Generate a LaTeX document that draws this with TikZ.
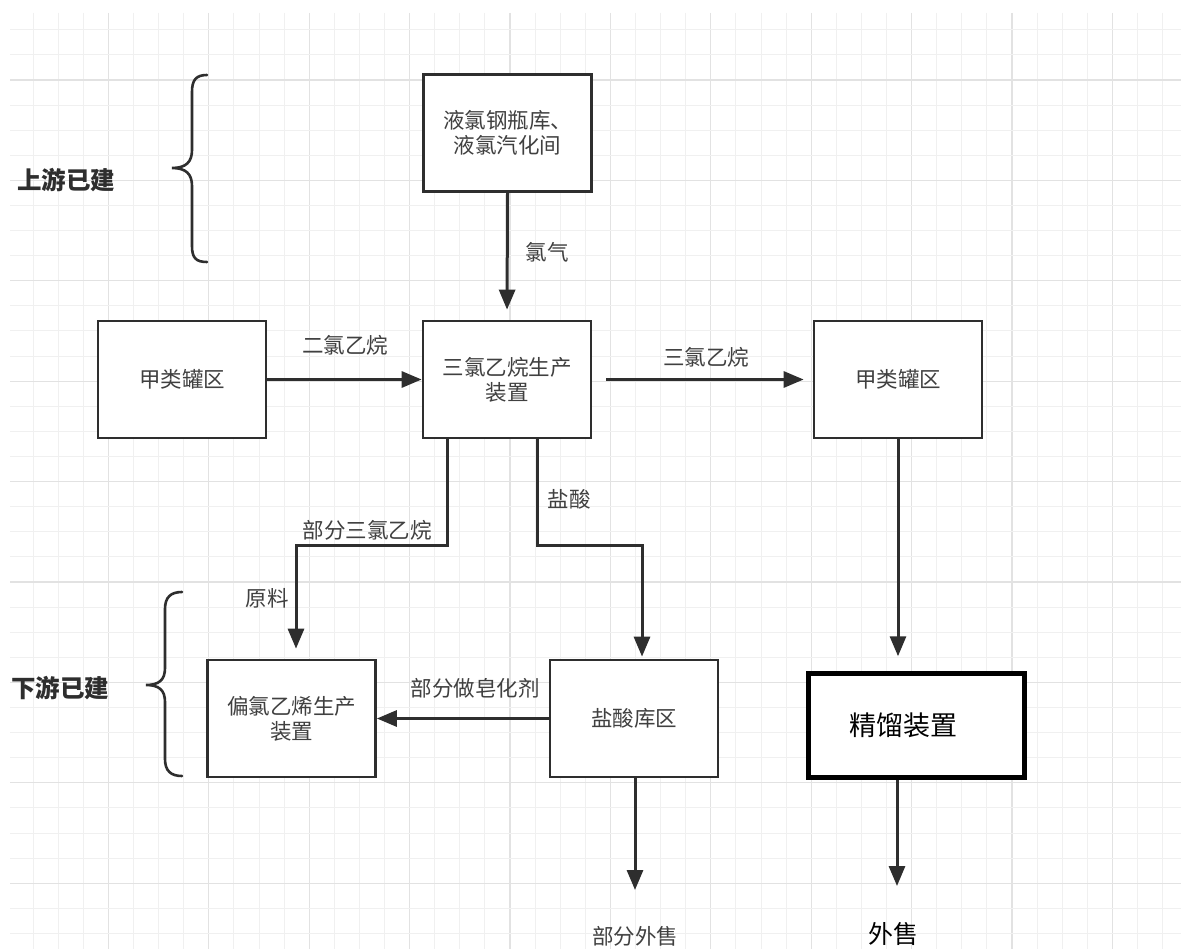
\documentclass[tikz,border=0pt]{standalone}
\usepackage{fontspec}
\newfontfamily\cjk{Noto Sans CJK SC}
\usetikzlibrary{arrows.meta}
\definecolor{ink}{HTML}{2E2E2E}
\definecolor{txt}{HTML}{404040}
\definecolor{gmin}{HTML}{F0F0F0}
\definecolor{gmaj}{HTML}{E2E2E2}
\begin{document}
\begin{tikzpicture}[x=1pt,y=-1pt,
  box/.style={draw=ink, line width=2.7pt, fill=white, font=\cjk\fontsize{21.5}{25}\selectfont,
    text=txt, align=center, inner sep=0pt, minimum width=168pt, minimum height=117pt},
  bigbox/.style={draw=black, line width=4.5pt, fill=white, font=\cjk\fontsize{27}{32}\selectfont,
    text=black, align=center, inner sep=0pt, minimum width=216pt, minimum height=104pt},
  lbl/.style={font=\cjk\fontsize{21.5}{25}\selectfont, text=txt, inner sep=0pt},
  biglbl/.style={font=\cjk\fontsize{25}{30}\selectfont, text=black, inner sep=0pt},
  side/.style={font=\cjk\bfseries\fontsize{24.5}{29}\selectfont, text=ink, inner sep=0pt},
  arr/.style={draw=ink, line width=3pt, -{Triangle[length=20pt,width=16pt]}},
  bracepath/.style={draw=ink, line width=2.6pt, line cap=round}]
\useasboundingbox (0,0) rectangle (1181,949);
\fill[white] (0,0) rectangle (1181,949);
% grid
\foreach \k in {1,...,46} {
  \pgfmathsetmacro{\gx}{8+25.1*\k}
  \pgfmathtruncatemacro{\m}{mod(\k,4)}
  \ifnum\m=0 \draw[gmaj, line width=1.2pt] (\gx,13) -- (\gx,949);
  \else \draw[gmin, line width=1pt] (\gx,13) -- (\gx,949); \fi
}
\foreach \k in {1,...,37} {
  \pgfmathsetmacro{\gy}{4.7+25.1*\k}
  \pgfmathtruncatemacro{\m}{mod(\k,4)}
  \ifnum\m=3 \draw[gmaj, line width=1.2pt] (10,\gy) -- (1181,\gy);
  \else \draw[gmin, line width=1pt] (10,\gy) -- (1181,\gy); \fi
}
% boxes
\node[box] (A) at (507.5,133) {液氯钢瓶库、\\液氯汽化间};
\node[box] (B) at (182,379.5) {甲类罐区};
\node[box] (C) at (507,379.5) {三氯乙烷生产\\装置};
\node[box] (D) at (898,379.5) {甲类罐区};
\node[box] (E) at (291.5,718.5) {偏氯乙烯生产\\装置};
\node[box] (F) at (634,718.5) {盐酸库区};
\node[bigbox] (G) at (916.5,725.5) {精馏装置\hspace*{26pt}};
% bend and end coordinates
\coordinate (t1) at (296,545);
\coordinate (k1) at (447,545);
\coordinate (t2) at (642,545);
\coordinate (k2) at (537,545);
\coordinate (fs) at (635,890);
\coordinate (gs) at (897,886);
% connectors
\draw[arr, shorten >=10pt] (A.south) -- (C.north);
\draw[arr] (B.east) -- (C.west);
\draw[arr, shorten <=14pt, shorten >=9pt] (C.east) -- (D.west);
\draw[arr, shorten >=10pt] (C.south -| k1) |- (t1) -- (E.north -| t1);
\draw[arr, shorten >=2pt] (C.south -| k2) |- (t2) -- (F.north -| t2);
\draw[arr] (F.west) -- (E.east);
\draw[arr] (F.south -| fs) -- (fs);
\draw[arr, shorten >=15pt] (D.south) -- (D.south |- G.north);
\draw[arr] (G.south -| gs) -- (gs);
% labels
\node[lbl] (l1) at (547,252) {氯气};
\node[lbl] (l2) at (345,345) {二氯乙烷};
\node[lbl] (l3) at (706,357) {三氯乙烷};
\node[lbl] (l4) at (367,530) {部分三氯乙烷};
\node[lbl] (l5) at (267,598) {原料};
\node[lbl] (l6) at (569,499) {盐酸};
\node[lbl] (l7) at (475,688) {部分做皂化剂};
\node[lbl] (l8) at (635,936) {部分外售};
\node[biglbl] (l9) at (893,934) {外售};
\node[side] (s1) at (66,180) {上游已建};
\node[side] (s2) at (60,688) {下游已建};
% braces
\draw[bracepath] (207,75) .. controls (196,75) and (192,80) .. (192,92) -- (192,150)
  .. controls (192,162) and (186,168) .. (172,168)
  .. controls (186,168) and (192,174) .. (192,186) -- (192,246)
  .. controls (192,258) and (196,262) .. (207,262);
\draw[bracepath] (182,592) .. controls (171,592) and (165,597) .. (165,609) -- (165,668)
  .. controls (165,680) and (159,685) .. (146,685)
  .. controls (159,685) and (165,690) .. (165,702) -- (165,759)
  .. controls (165,771) and (171,776) .. (182,776);
\end{tikzpicture}
\end{document}
